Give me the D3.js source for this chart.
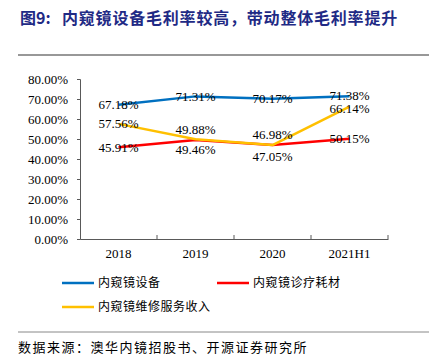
<!DOCTYPE html>
<html>
<head>
<meta charset="utf-8">
<script src="https://cdn.jsdelivr.net/npm/d3@7"></script>
<style>
  body { margin: 0; background: #fff; }
  svg { display: block; }
</style>
</head>
<body>
<svg id="chart" width="429" height="362"></svg>
<script>
// Data
const categories = ['2018', '2019', '2020', '2021H1'];
const seriesNames = ['内窥镜设备', '内窥镜诊疗耗材', '内窥镜维修服务收入'];
const equipment = [67.18, 71.31, 70.17, 71.38];
const consumables = [45.91, 49.46, 47.05, 50.15];
const service = [57.56, 49.88, 46.98, 66.14];
const yTicks = [0, 10, 20, 30, 40, 50, 60, 70, 80];

// Styling only
const colors = ['#0070C0', '#FF0000', '#FFC000'];
// vertical nudge of each value label (px), per series
const labelNudge = [
  [0, 0, 0, -1],
  [0, 9, 12, 0],
  [0, -10, -11, 1.5]
];

const svg = d3.select('#chart');
const serif = '"Liberation Serif", "Times New Roman", serif';
const cjk = '"Noto Sans CJK SC", sans-serif';

// title + rule
svg.append('text')
  .attr('x', 20).attr('y', 24)
  .attr('font-family', cjk)
  .attr('font-weight', 'bold')
  .attr('font-size', 16)
  .attr('fill', '#1F2A85')
  .call(t => {
    t.append('tspan').text('图9:');
    t.append('tspan').attr('x', 62).attr('letter-spacing', 0.8)
      .text('内窥镜设备毛利率较高，带动整体毛利率提升');
  });

svg.append('line')
  .attr('x1', 18).attr('x2', 429)
  .attr('y1', 55).attr('y2', 55)
  .attr('stroke', '#333').attr('stroke-width', 1.2);

const plotLeft = 80, plotRight = 388, plotTop = 79, plotBottom = 239;

const xScale = d3.scaleBand()
  .domain(categories)
  .range([plotLeft, plotRight]);

const yScale = d3.scaleLinear()
  .domain([0, 80])
  .range([plotBottom, plotTop]);

// y axis
const yAxis = svg.append('g')
  .attr('transform', `translate(${plotLeft},0)`)
  .call(d3.axisLeft(yScale).tickValues(yTicks).tickSize(3).tickPadding(9)
    .tickFormat(d => d.toFixed(2) + '%'));
yAxis.select('.domain').attr('stroke', '#595959');
yAxis.selectAll('.tick line').attr('stroke', '#595959');
yAxis.selectAll('text')
  .attr('font-family', serif).attr('font-size', 13).attr('fill', '#000');

// x axis, ticks on boundaries pointing up
const xAxis = svg.append('g')
  .attr('transform', `translate(0,${plotBottom})`)
  .call(d3.axisBottom(xScale).tickSize(0).tickPadding(10));
xAxis.select('.domain').attr('stroke', '#595959');
xAxis.selectAll('text')
  .attr('font-family', serif).attr('font-size', 13).attr('fill', '#000');

const bounds = categories.map(c => xScale(c)).concat([plotRight]);
svg.append('g').selectAll('line')
  .data(bounds.slice(1))
  .join('line')
  .attr('x1', d => d).attr('x2', d => d)
  .attr('y1', plotBottom).attr('y2', plotBottom - 4)
  .attr('stroke', '#595959');

// lines
const allSeries = [equipment, consumables, service];
const xc = c => xScale(c) + xScale.bandwidth() / 2;
const line = d3.line()
  .x((d, i) => xc(categories[i]))
  .y(d => yScale(d));

// draw order: red, blue, yellow on top
[1, 0, 2].forEach(s => {
  svg.append('path')
    .datum(allSeries[s])
    .attr('d', line)
    .attr('fill', 'none')
    .attr('stroke', colors[s])
    .attr('stroke-width', 2.5)
    .attr('stroke-linejoin', 'round');
});

// value labels
allSeries.forEach((vals, s) => {
  svg.append('g').selectAll('text')
    .data(vals)
    .join('text')
    .attr('x', (d, i) => xc(categories[i]))
    .attr('y', (d, i) => yScale(d) + labelNudge[s][i])
    .attr('dy', '0.35em')
    .attr('text-anchor', 'middle')
    .attr('font-family', serif)
    .attr('font-size', 13)
    .attr('fill', '#000')
    .text(d => d.toFixed(2) + '%');
});

// legend
const legendPos = [[62, 283], [217, 283], [62, 307]];
seriesNames.forEach((name, s) => {
  const [lx, ly] = legendPos[s];
  svg.append('line')
    .attr('x1', lx).attr('x2', lx + 32)
    .attr('y1', ly).attr('y2', ly)
    .attr('stroke', colors[s]).attr('stroke-width', 2.5);
  svg.append('text')
    .attr('x', lx + 36).attr('y', ly)
    .attr('dy', '0.35em')
    .attr('font-family', cjk)
    .attr('font-size', 12)
    .attr('letter-spacing', 0.5)
    .attr('fill', '#000')
    .text(name);
});

// source
svg.append('line')
  .attr('x1', 18).attr('x2', 429)
  .attr('y1', 332).attr('y2', 332)
  .attr('stroke', '#888').attr('stroke-width', 1);

svg.append('text')
  .attr('x', 18).attr('y', 347)
  .attr('dy', '0.35em')
  .attr('font-family', cjk)
  .attr('font-size', 13)
  .attr('letter-spacing', 1.5)
  .attr('fill', '#000')
  .text('数据来源：澳华内镜招股书、开源证券研究所');
</script>
</body>
</html>
